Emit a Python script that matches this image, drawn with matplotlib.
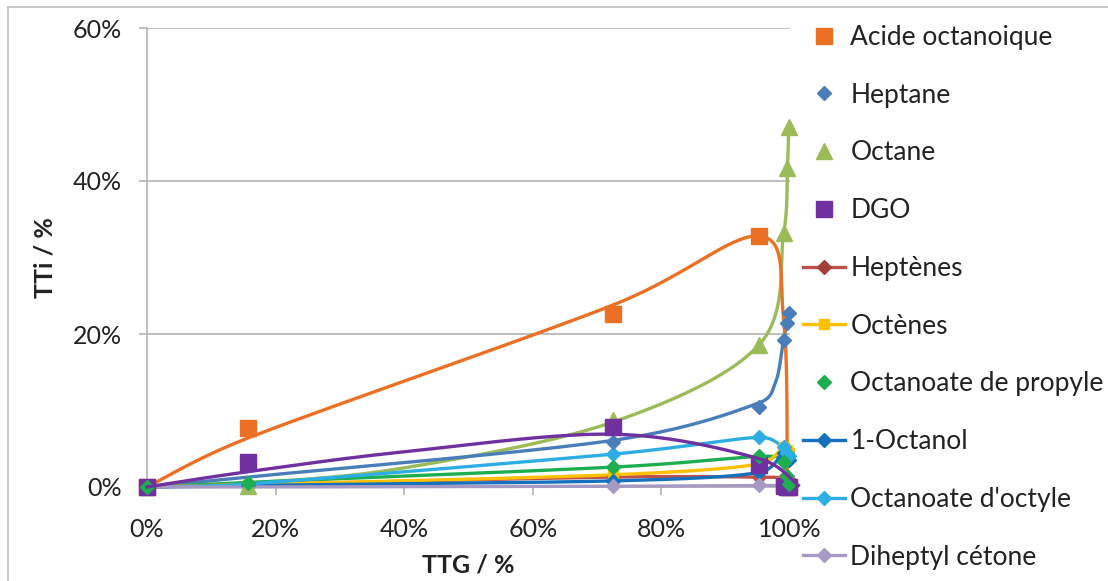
import numpy as np
import matplotlib
matplotlib.use("Agg")
import matplotlib.pyplot as plt
from matplotlib.lines import Line2D

plt.rcParams['font.family'] = ['Lato', 'DejaVu Sans']

# ---------------- data ----------------
ttg = [0.0, 0.157, 0.725, 0.952, 0.990, 0.996, 0.998]

# experimental points (marker-only series)
acide = [0.0, 0.077, 0.226, 0.328, 0.003, 0.001, 0.0]
heptane = [0.0, 0.002, 0.059, 0.105, 0.192, 0.214, 0.227]
octane = [0.0, 0.001, 0.087, 0.186, 0.332, 0.417, 0.470]
dgo = [0.0, 0.033, 0.078, 0.029, 0.001, 0.0, 0.0]
oct_propyle = [0.0, 0.005, 0.026, 0.040, 0.033, 0.015, 0.004]

# line + marker series
heptenes = [0.0, 0.003, 0.013, 0.013, 0.012, 0.010, 0.008]
octenes = [0.0, 0.003, 0.016, 0.030, 0.052, 0.048, 0.045]
octanol = [0.0, 0.002, 0.008, 0.019, 0.045, 0.040, 0.035]
oct_octyle = [0.0, 0.004, 0.043, 0.065, 0.052, 0.045, 0.040]
diheptyl = [0.0, 0.0, 0.001, 0.002, 0.002, 0.002, 0.002]

# model curves
acide_model_x = [0.0, 0.157, 0.725, 0.952, 0.990, 0.996, 0.998]
acide_model_y = [0.0, 0.064, 0.238, 0.328, 0.220, 0.010, 0.0]
heptane_model_x = [0.0, 0.157, 0.725, 0.952, 0.978, 0.989, 0.996, 0.998]
heptane_model_y = [0.0, 0.013, 0.061, 0.110, 0.138, 0.188, 0.218, 0.227]
octane_model_x = [0.0, 0.157, 0.40, 0.725, 0.952, 0.990, 0.996, 0.998]
octane_model_y = [0.0, 0.005, 0.025, 0.085, 0.186, 0.330, 0.417, 0.470]
dgo_model_x = [0.0, 0.157, 0.40, 0.725, 0.952, 1.013]
dgo_model_y = [0.0, 0.020, 0.046, 0.069, 0.037, 0.002]
propyle_model_x = [0.0, 0.157, 0.725, 0.952, 0.990, 0.996, 0.998]
propyle_model_y = [0.0, 0.006, 0.026, 0.040, 0.036, 0.015, 0.0]

x_ticks = [0, 0.2, 0.4, 0.6, 0.8, 1.0]
x_ticklabels = ['0%', '20%', '40%', '60%', '80%', '100%']
y_ticks = [0, 0.2, 0.4, 0.6]
y_ticklabels = ['0%', '20%', '40%', '60%']

C_ORANGE = '#EC7023'
C_BLUE = '#4A7EBB'
C_LIME = '#9BBB59'
C_PURPLE = '#7030A0'
C_RED = '#C0504D'
C_YELLOW = '#FFC000'
C_GREEN = '#1DAF4F'
C_DBLUE = '#1570BE'
C_LBLUE = '#2CAEE5'
C_LAV = '#A69AC4'

# ---------------- figure ----------------
W, H = 1108, 581
fig = plt.figure(figsize=(W / 100, H / 100), dpi=100)
ax = fig.add_axes([147 / W, (H - 487) / H, 643 / W, 459 / H])

PX_X = 643.0
PX_Y = 459.0 / 0.6


def smooth(xs, ys, n=40, cap=0.5):
    """Excel-like smoothed line: Catmull-Rom Bezier handles (P2-P0)/6 in screen
    space, capped relative to the segment length."""
    P = np.column_stack([np.asarray(xs) * PX_X, np.asarray(ys) * PX_Y])
    m = len(P)
    out = [P[0]]

    def handle(v, L):
        n_ = np.hypot(*v)
        if n_ == 0:
            return v
        h = min(n_ / 6.0, cap * L)
        return v / n_ * h

    for i in range(m - 1):
        p0 = P[i - 1] if i > 0 else P[i]
        p1 = P[i]
        p2 = P[i + 1]
        p3 = P[i + 2] if i + 2 < m else P[i + 1]
        L = np.hypot(*(p2 - p1))
        c1 = p1 + handle(p2 - p0, L)
        c2 = p2 - handle(p3 - p1, L)
        t = np.linspace(0, 1, n)[1:, None]
        seg = ((1 - t) ** 3) * p1 + 3 * ((1 - t) ** 2) * t * c1 + 3 * (1 - t) * t ** 2 * c2 + t ** 3 * p2
        out.extend(seg)
    out = np.array(out)
    return out[:, 0] / PX_X, out[:, 1] / PX_Y


LW = 2.4
# model curves
for mx, my, col in [(octane_model_x, octane_model_y, C_LIME),
                    (heptane_model_x, heptane_model_y, C_BLUE),
                    (propyle_model_x, propyle_model_y, C_GREEN),
                    (acide_model_x, acide_model_y, C_ORANGE)]:
    sx, sy = smooth(mx, my)
    ax.plot(sx, sy, color=col, lw=LW, clip_on=False, zorder=3, solid_capstyle='butt')

# line + marker series
line_series = [(heptenes, C_RED, 'D', 7.5),
               (octenes, C_YELLOW, 's', 7.5),
               (octanol, C_DBLUE, 'D', 7.5),
               (oct_octyle, C_LBLUE, 'D', 7.5),
               (diheptyl, C_LAV, 'D', 7.5)]
for ys, col, mk, ms in line_series:
    sx, sy = smooth(ttg, ys)
    ax.plot(sx, sy, color=col, lw=LW, clip_on=False, zorder=3)
    ax.plot(ttg, ys, linestyle='none', marker=mk, ms=ms, color=col, clip_on=False, zorder=4)

# experimental markers
ax.plot(ttg, acide, linestyle='none', marker='s', ms=11, color=C_ORANGE, clip_on=False, zorder=4)
ax.plot(ttg, heptane, linestyle='none', marker='D', ms=7.5, color=C_BLUE, clip_on=False, zorder=4)
ax.plot(ttg, octane, linestyle='none', marker='^', ms=11, color=C_LIME, clip_on=False, zorder=4)
ax.plot(ttg, dgo, linestyle='none', marker='s', ms=11, color=C_PURPLE, clip_on=False, zorder=4)
ax.plot(ttg, oct_propyle, linestyle='none', marker='D', ms=7.5, color=C_GREEN, clip_on=False, zorder=4)

# DGO model curve on top
sx, sy = smooth(dgo_model_x, dgo_model_y)
ax.plot(sx, sy, color=C_PURPLE, lw=LW, clip_on=False, zorder=5)

# ---------------- axes styling ----------------
GRID = '#B3B3B3'
ax.set_xlim(0, 1.0)
ax.set_ylim(0, 0.6)
ax.set_xticks(x_ticks)
ax.set_xticklabels(x_ticklabels)
ax.set_yticks(y_ticks)
ax.set_yticklabels(y_ticklabels)
for s in ['top', 'right']:
    ax.spines[s].set_visible(False)
for s in ['left', 'bottom']:
    ax.spines[s].set_color(GRID)
    ax.spines[s].set_linewidth(1.2)
ax.yaxis.grid(True, color=GRID, lw=1.2)
ax.set_axisbelow(True)
ax.tick_params(axis='both', direction='out', length=6, width=1.2, color=GRID,
               labelsize=18, labelcolor='#222222')
ax.tick_params(axis='x', pad=16)
ax.tick_params(axis='y', pad=12)
ax.set_xlabel('TTG / %', fontsize=18, fontweight='bold', color='#222222', labelpad=9)
ax.set_ylabel('TTi / %', fontsize=18, fontweight='bold', color='#222222', labelpad=12)

# ---------------- legend ----------------
handles = [
    Line2D([], [], linestyle='none', marker='s', ms=11, color=C_ORANGE),
    Line2D([], [], linestyle='none', marker='D', ms=7.5, color=C_BLUE),
    Line2D([], [], linestyle='none', marker='^', ms=11, color=C_LIME),
    Line2D([], [], linestyle='none', marker='s', ms=11, color=C_PURPLE),
    Line2D([], [], color=C_RED, lw=LW, marker='D', ms=7.5, markerfacecolor='#A43E3B', markeredgecolor='#A43E3B'),
    Line2D([], [], color=C_YELLOW, lw=LW, marker='s', ms=7.5),
    Line2D([], [], linestyle='none', marker='D', ms=7.5, color=C_GREEN),
    Line2D([], [], color=C_DBLUE, lw=LW, marker='D', ms=7.5),
    Line2D([], [], color=C_LBLUE, lw=LW, marker='D', ms=7.5),
    Line2D([], [], color=C_LAV, lw=LW, marker='D', ms=7.5),
]
labels = ['Acide octanoique', 'Heptane', 'Octane', 'DGO', 'Heptènes', 'Octènes',
          'Octanoate de propyle', '1-Octanol', "Octanoate d'octyle", 'Diheptyl cétone']
fig.legend(handles, labels, loc='upper left', bbox_to_anchor=(803 / W, 1 - 25 / H),
           frameon=False, fontsize=19, labelcolor='#222222', handlelength=1.6,
           handletextpad=0.2, labelspacing=1.24, borderpad=0, borderaxespad=0,
           numpoints=1)

# outer chart border
fig.add_artist(Line2D([8 / W, 8 / W], [0, 1 - 7 / H], transform=fig.transFigure, color='#BFBFBF', lw=1.2))
fig.add_artist(Line2D([8 / W, 1], [1 - 7 / H, 1 - 7 / H], transform=fig.transFigure, color='#BFBFBF', lw=1.2))

fig.savefig('out.png', dpi=100)
